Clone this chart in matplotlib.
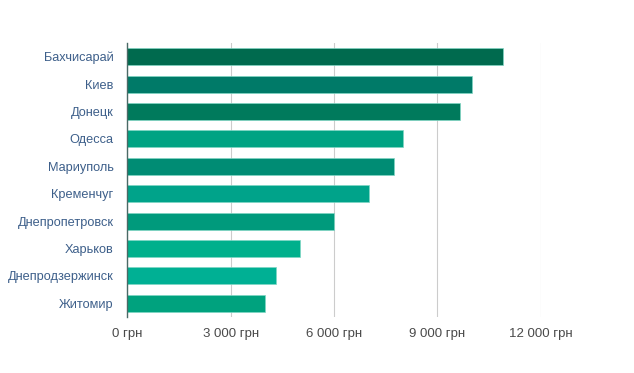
import matplotlib
matplotlib.use("Agg")
import matplotlib.pyplot as plt
from matplotlib.ticker import FuncFormatter

cities = ["Бахчисарай", "Киев", "Донецк", "Одесса", "Мариуполь", "Кременчуг",
          "Днепропетровск", "Харьков", "Днепродзержинск", "Житомир"]
values = [10900, 10000, 9650, 8000, 7750, 7000, 6000, 5000, 4300, 4000]
colors = ["#006a4e", "#007a68", "#007a5c", "#00a383", "#008c74", "#00a38a",
          "#009a7c", "#00b08c", "#00b094", "#00a27e"]
xticks = [0, 3000, 6000, 9000, 12000]

plt.rcParams['font.family'] = ['Liberation Sans', 'DejaVu Sans']

fig = plt.figure(figsize=(6.34, 3.73), dpi=100)
ax = fig.add_axes([0.201, 0.150, 0.652, 0.735])

y = list(range(len(cities)))
ax.barh(y, values, height=0.62, color=colors, edgecolor="#7fd6c4", linewidth=0.5, zorder=3)
ax.set_ylim(len(cities) - 0.5, -0.5)
ax.set_xlim(0, 12000)
ax.set_yticks(y)
ax.set_yticklabels(cities, color="#3d5f8a", fontsize=9.2)
ax.set_xticks(xticks)
ax.xaxis.set_major_formatter(FuncFormatter(lambda v, p: f"{int(v):,}".replace(",", " ") + " грн"))
ax.tick_params(axis='x', colors="#4a4a4a", labelsize=9.5, length=0, pad=8)
ax.tick_params(axis='y', length=0, pad=10)
ax.grid(axis='x', color="#cccccc", linewidth=0.8, zorder=0)
for s in ["top", "right", "bottom"]:
    ax.spines[s].set_visible(False)
ax.spines["left"].set_color("#4a6a66")
ax.spines["left"].set_linewidth(1)
ax.spines["left"].set_zorder(4)

fig.savefig("out.png", dpi=100)
